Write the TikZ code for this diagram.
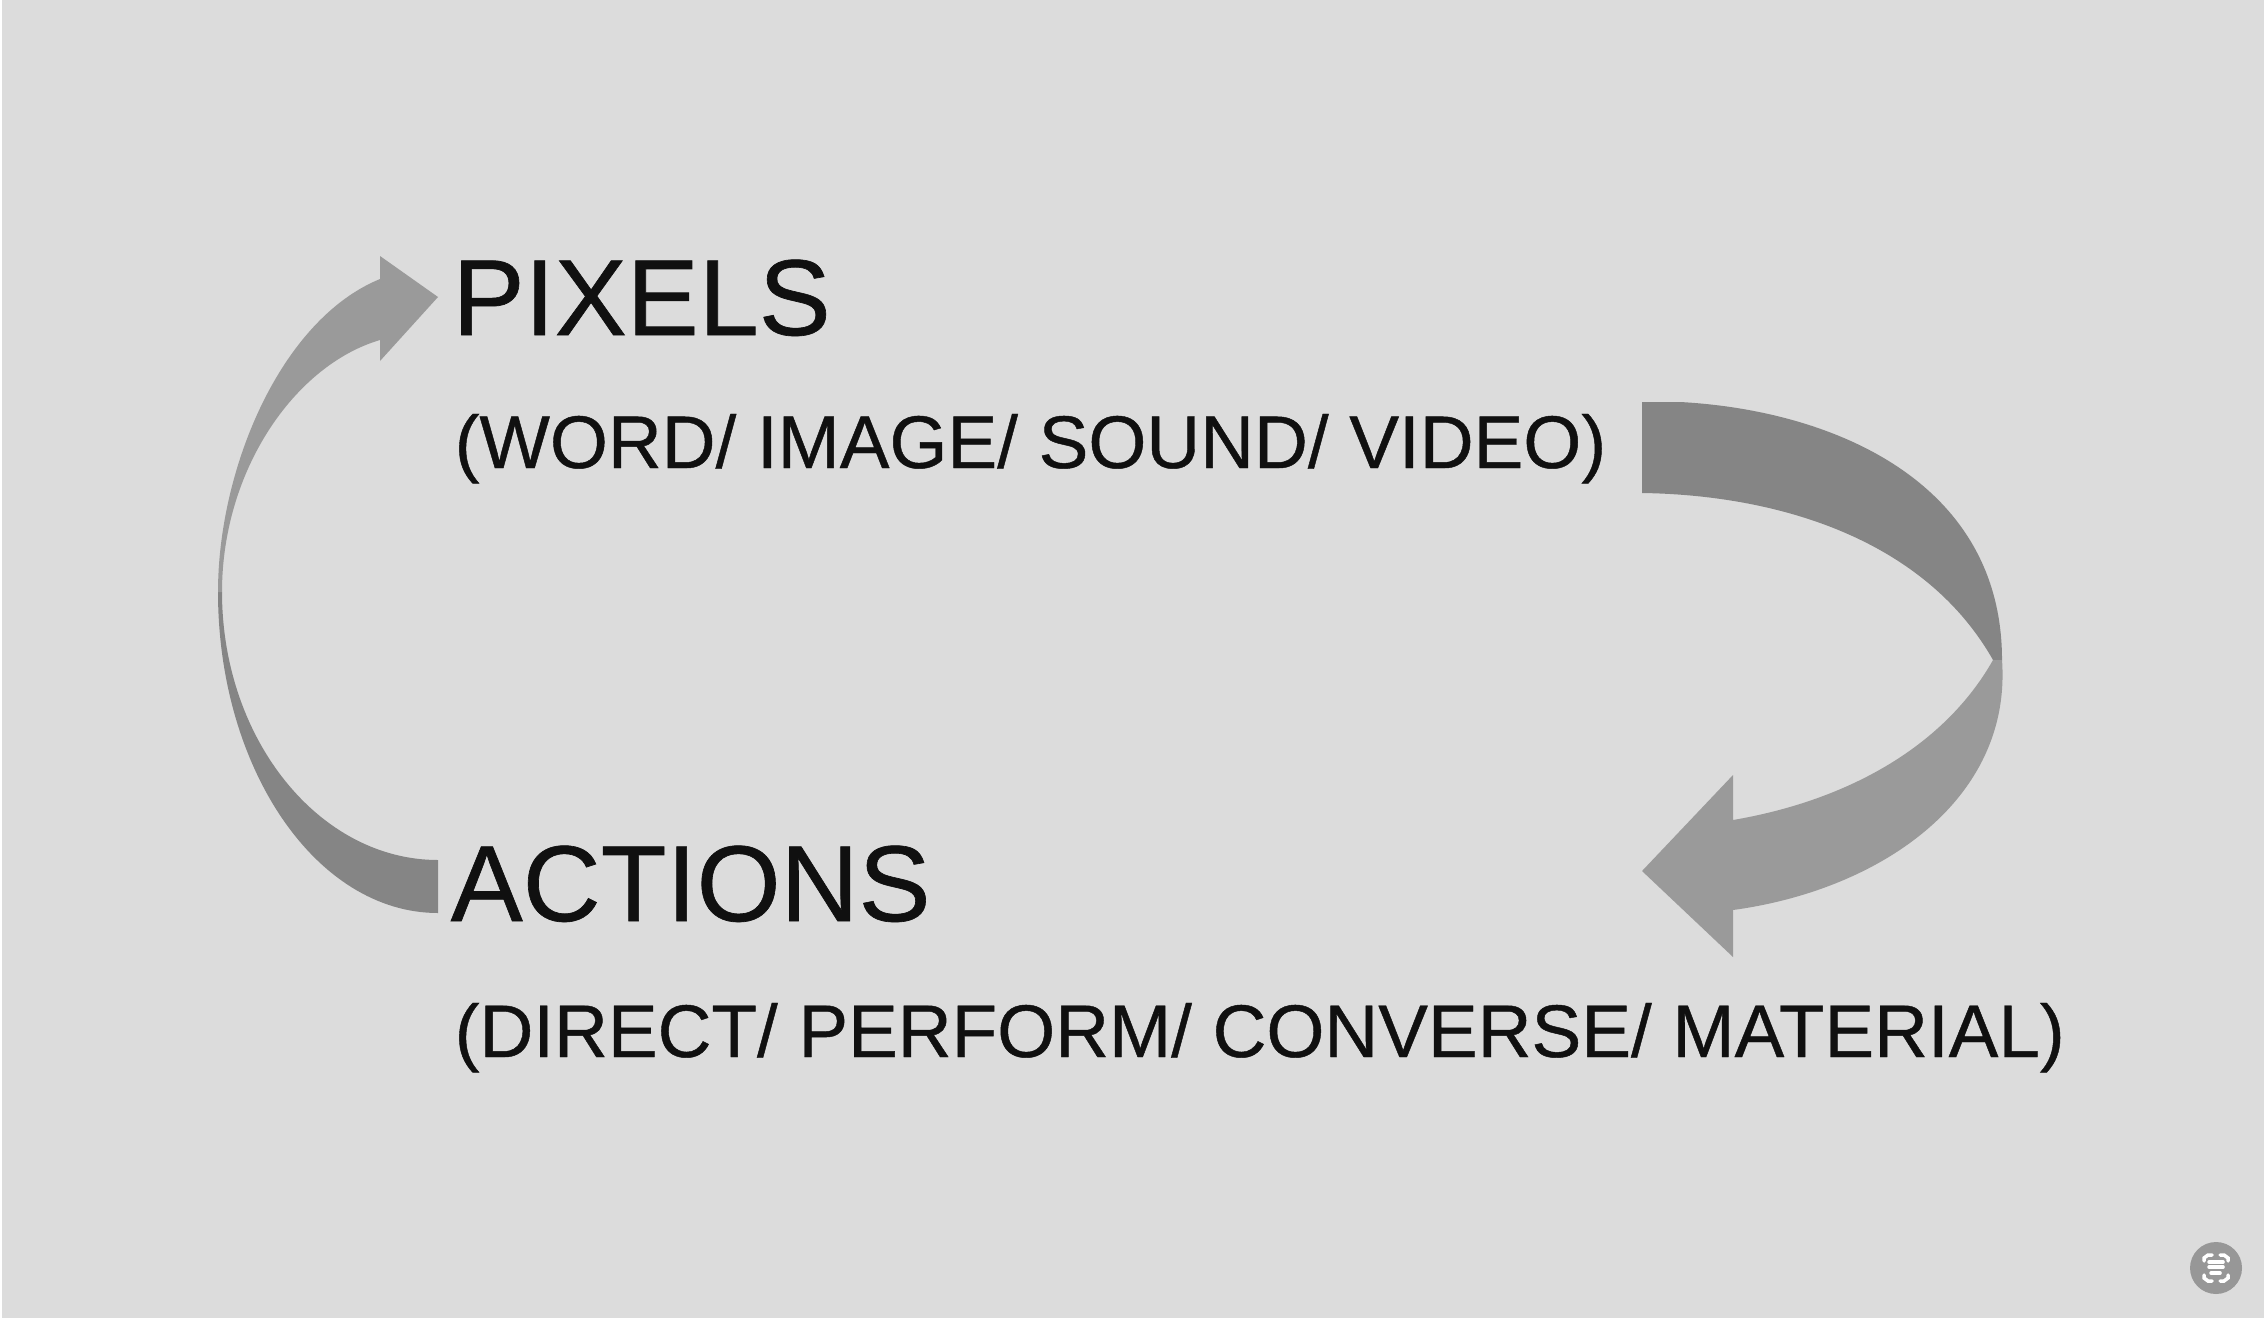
\documentclass[tikz,border=0pt]{standalone}
\usepackage{fontspec}
\setmainfont[FakeBold=0.6]{Liberation Sans}
\definecolor{paper}{HTML}{DCDCDC}
\definecolor{shadeA}{HTML}{9A9A9A}
\definecolor{shadeB}{HTML}{858585}
\definecolor{badge}{HTML}{979797}
\definecolor{ink}{HTML}{101010}
\tikzset{
    title/.style={anchor=base west,inner sep=0pt,text=ink,font=\fontsize{30.7}{32}\selectfont},
    subtitle/.style={anchor=base west,inner sep=0pt,text=ink,font=\fontsize{21.2}{24}\selectfont},
    icon/.style={draw=white,line width=1pt,line cap=round}
}
\begin{document}
\begin{tikzpicture}[x=0.01cm,y=-0.01cm]
    \useasboundingbox (0,0) rectangle (2264,1324);
    \fill[paper] (2,0) rectangle (2264,1318);

    % Labels
    \node[title]    (pixels)  at (452,335)  {PIXELS};
    \node[subtitle] (pixsub)  at (454,468)  {(WORD/ IMAGE/ SOUND/ VIDEO)};
    \node[title]    (actions) at (450,921)  {ACTIONS};
    \node[subtitle] (actsub)  at (454,1057) {(DIRECT/ PERFORM/ CONVERSE/ MATERIAL)};

    % Left arrow
    \coordinate (LT) at (438,297);
    \coordinate (LA) at (380,256);
    \coordinate (LB) at (380,361);
    \coordinate (LC) at (380,279);
    \coordinate (LD) at (380,340);
    \coordinate (LE) at (438,913);
    \coordinate (LF) at (438,860);
    \coordinate (LM) at (218,592);
    \coordinate (LN) at (222,592);

    \fill[shadeB] (LE) -- (LF)
        .. controls (319,860) and (222,739) .. (LN)
        -- (LM)
        .. controls (218,768) and (316,913) .. (LE)
        -- cycle;
    \fill[shadeA] (LM)
        .. controls (218,470) and (280,320) .. (LC)
        -- (LA) -- (LT) -- (LB) -- (LD)
        .. controls (295,365) and (222,470) .. (LN)
        -- cycle;

    % Right arrow
    \coordinate (RA) at (1642,402);
    \coordinate (RA2) at (1680,402);
    \coordinate (RB) at (1642,493);
    \coordinate (RM) at (2002,660);
    \coordinate (RN) at (1993,660);
    \coordinate (RT) at (1642,871);
    \coordinate (RC) at (1733,775);
    \coordinate (RD) at (1733,820);
    \coordinate (RE) at (1733,910);
    \coordinate (RF) at (1733,957);

    \fill[shadeB] (RA) -- (RA2)
        .. controls (1830,410) and (2002,480) .. (RM)
        -- (RN)
        .. controls (1925,540) and (1780,495) .. (RB)
        -- cycle;
    \fill[shadeA] (RM)
        .. controls (2012,800) and (1880,890) .. (RE)
        -- (RF) -- (RT) -- (RC) -- (RD)
        .. controls (1850,800) and (1945,745) .. (RN)
        -- cycle;

    % Badge
    \fill[badge] (2216,1268) circle (26);
    \draw[icon] (2204,1261) -- (2204,1258) -- (2208,1255) -- (2212,1255);
    \draw[icon] (2220,1255) -- (2224,1255) -- (2228,1258) -- (2228,1261);
    \draw[icon] (2204,1275) -- (2204,1278) -- (2208,1281) -- (2212,1281);
    \draw[icon] (2220,1281) -- (2224,1281) -- (2228,1278) -- (2228,1275);
    \draw[icon] (2209,1262) -- (2223,1262);
    \draw[icon] (2209,1267) -- (2223,1267);
    \draw[icon] (2211,1273) -- (2220,1273);
\end{tikzpicture}
\end{document}
